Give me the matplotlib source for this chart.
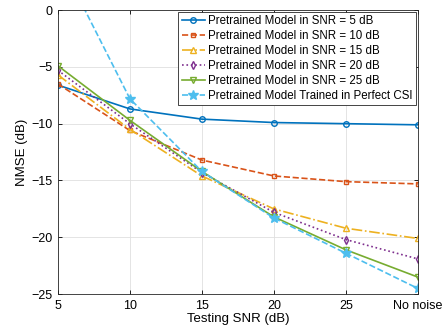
import numpy as np
import matplotlib.pyplot as plt

plt.rcParams['font.family'] = ['Liberation Sans', 'DejaVu Sans']

snr_labels = ['5', '10', '15', '20', '25', 'No noise']
snr5 = [-6.6, -8.7, -9.6, -9.9, -10.0, -10.1]
snr10 = [-6.5, -10.6, -13.2, -14.6, -15.1, -15.3]
snr15 = [-5.7, -10.5, -14.6, -17.5, -19.2, -20.1]
snr20 = [-5.3, -10.0, -14.3, -17.8, -20.2, -21.9]
snr25 = [-4.9, -9.7, -14.2, -18.2, -21.1, -23.5]
perfect = [4.7, -7.8, -14.2, -18.3, -21.4, -24.5]

x = np.arange(len(snr_labels))

fig = plt.figure(figsize=(4.45, 3.35), dpi=100)
ax = fig.add_axes([0.130, 0.122, 0.809, 0.848])

ms = 4
ax.plot(x, snr5, '-', marker='o', color='#0072BD', lw=1.2, ms=ms, mfc='none',
        label='Pretrained Model in SNR = 5 dB')
ax.plot(x, snr10, '--', marker='s', color='#D95319', lw=1.2, ms=3.5, mfc='none',
        label='Pretrained Model in SNR = 10 dB')
ax.plot(x, snr15, '-.', marker='^', color='#EDB120', lw=1.2, ms=5, mfc='none',
        label='Pretrained Model in SNR = 15 dB')
ax.plot(x, snr20, ':', marker='d', color='#7E2F8E', lw=1.2, ms=ms, mfc='none',
        label='Pretrained Model in SNR = 20 dB')
ax.plot(x, snr25, '-', marker='v', color='#77AC30', lw=1.2, ms=5, mfc='none',
        label='Pretrained Model in SNR = 25 dB')
ax.plot(x, perfect, '--', marker='*', color='#4DBEEE', lw=1.2, ms=7,
        label='Pretrained Model Trained in Perfect CSI')

ax.set_xlim(0, len(snr_labels) - 1)
ax.set_ylim(-25, 0)
ax.set_xticks(x)
ax.set_xticklabels(snr_labels)
ax.set_yticks([-25, -20, -15, -10, -5, 0])
ax.tick_params(direction='in', top=True, right=True, labelsize=9, length=3,
               width=0.6, pad=4)
ax.grid(True, color='#dfdfdf', lw=0.6)
ax.set_axisbelow(True)
for s in ax.spines.values():
    s.set_linewidth(0.6)
    s.set_color('#262626')

ax.set_xlabel('Testing SNR (dB)', fontsize=9.5, labelpad=1)
ax.set_ylabel('NMSE (dB)', fontsize=9.5, labelpad=2)

leg = ax.legend(loc='upper right', fontsize=8.3, fancybox=False, framealpha=1,
                edgecolor='#262626', borderpad=0.3, labelspacing=0.25,
                handlelength=2.0, handletextpad=0.3, borderaxespad=0.15)
leg.get_frame().set_linewidth(0.6)

fig.savefig('out.png', dpi=100)
